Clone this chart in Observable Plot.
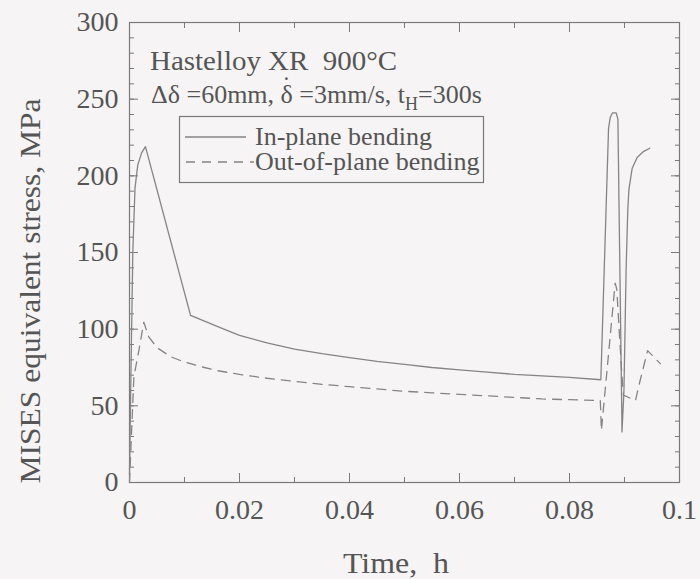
<!DOCTYPE html>
<html><head><meta charset="utf-8">
<script src="https://cdn.jsdelivr.net/npm/d3@7"></script>
<script src="https://cdn.jsdelivr.net/npm/@observablehq/plot@0.6"></script>
<style>
html,body{margin:0;padding:0;background:#f6f4f4;}
#chart svg{display:block;}
</style></head><body><div id="chart"></div>
<script>
// ---- data ----
const seriesNames = ["In-plane bending", "Out-of-plane bending"];
const inPlaneTime = [0, 0.0003, 0.0006, 0.001, 0.0015, 0.0022, 0.0029, 0.0111, 0.0165, 0.02, 0.025, 0.03, 0.035, 0.04, 0.045, 0.05, 0.055, 0.06, 0.065, 0.07, 0.075, 0.08, 0.0857, 0.0871, 0.0874, 0.0878, 0.0885, 0.0888, 0.08955, 0.0899, 0.0903, 0.0906, 0.0908, 0.0914, 0.0923, 0.0935, 0.0946];
const inPlaneStress = [5, 80, 150, 192, 207, 215, 219, 109, 101, 96, 91, 87, 84, 81.5, 79, 77, 75, 73.5, 72, 70.5, 69.5, 68.5, 67, 231, 238, 241, 241, 237, 33, 60, 140, 178, 191, 205, 212, 216, 218];
const outPlaneTime = [0, 0.0004, 0.0008, 0.0017, 0.0026, 0.0035, 0.005, 0.0075, 0.0093, 0.0125, 0.0159, 0.02, 0.025, 0.03, 0.035, 0.04, 0.045, 0.05, 0.055, 0.06, 0.065, 0.07, 0.075, 0.08, 0.0856, 0.0858, 0.0883, 0.0886, 0.0894, 0.0898, 0.0920, 0.0926, 0.0942, 0.0965];
const outPlaneStress = [0, 35, 69, 86, 104.5, 95, 88, 82, 79.5, 76, 73, 70.5, 68, 66, 64, 62.5, 61, 59.5, 58.5, 57.5, 56.5, 55.5, 54.5, 54, 53.5, 34, 130, 126, 77, 57, 53.5, 63, 86, 77.5];
const xTicks = [0, 0.02, 0.04, 0.06, 0.08, 0.1];
const xTickLabels = ["0", "0.02", "0.04", "0.06", "0.08", "0.1"];
const xMinorTicks = [0, 0.01, 0.02, 0.03, 0.04, 0.05, 0.06, 0.07, 0.08, 0.09, 0.1];
const yTicks = [0, 50, 100, 150, 200, 250, 300];
const yTickLabels = ["0", "50", "100", "150", "200", "250", "300"];
const yMinorTicks = d3.range(0, 301, 10);
const xTitle = "Time,  h";
const yTitle = "MISES equivalent stress, MPa";
const titleLine1 = "Hastelloy XR  900°C";

// ---- build ----
const inPlane = inPlaneTime.map((t, i) => ({time: t, stress: inPlaneStress[i]}));
const outPlane = outPlaneTime.map((t, i) => ({time: t, stress: outPlaneStress[i]}));
const ink = "#7a7a7a", lineInk = "#858585", textInk = "#555555";
const font = "'Liberation Serif','Times New Roman',serif";

const plot = Plot.plot({
  width: 700, height: 579,
  marginLeft: 129, marginRight: 21, marginTop: 22, marginBottom: 97,
  style: {background: "transparent", fontFamily: font, fontSize: "28px", color: textInk},
  x: {domain: [0, 0.1], label: null},
  y: {domain: [0, 300], label: null},
  marks: [
    Plot.axisX({ticks: xMinorTicks, anchor: "bottom", tickSize: -5, text: null, label: null, stroke: ink}),
    Plot.axisX({ticks: xMinorTicks, anchor: "top", tickSize: -5, text: null, label: null, stroke: ink}),
    Plot.axisX({ticks: xTicks, anchor: "bottom", tickSize: -9, text: null, label: null, stroke: ink}),
    Plot.axisX({ticks: xTicks, anchor: "top", tickSize: -9, text: null, label: null, stroke: ink}),
    Plot.axisY({ticks: yMinorTicks, anchor: "left", tickSize: -5, text: null, label: null, stroke: ink}),
    Plot.axisY({ticks: yMinorTicks, anchor: "right", tickSize: -5, text: null, label: null, stroke: ink}),
    Plot.axisY({ticks: yTicks, anchor: "left", tickSize: -9, text: null, label: null, stroke: ink}),
    Plot.axisY({ticks: yTicks, anchor: "right", tickSize: -9, text: null, label: null, stroke: ink}),
    Plot.axisX({ticks: xTicks, anchor: "bottom", tickSize: 0, tickPadding: 17, label: null, color: textInk, fontSize: 28,
      tickFormat: d => xTickLabels[xTicks.indexOf(d)]}),
    Plot.axisY({ticks: yTicks, anchor: "left", tickSize: 0, tickPadding: 11, label: null, color: textInk, fontSize: 28,
      tickFormat: d => yTickLabels[yTicks.indexOf(d)]}),
    Plot.frame({stroke: ink, strokeWidth: 1.2}),
    Plot.line(inPlane, {x: "time", y: "stress", stroke: lineInk, strokeWidth: 1.3}),
    Plot.line(outPlane, {x: "time", y: "stress", stroke: lineInk, strokeWidth: 1.3, strokeDasharray: "9,7"})
  ]
});
document.getElementById("chart").append(plot);

// ---- annotations ----
const svg = d3.select(plot);
const g = svg.append("g").attr("fill", textInk).attr("font-family", font).attr("text-anchor", "start");

// axis titles
g.append("text").attr("x", 396).attr("y", 573).attr("text-anchor", "middle")
  .attr("font-size", 29).attr("textLength", 106).attr("lengthAdjust", "spacingAndGlyphs")
  .style("white-space", "pre").text(xTitle);
g.append("text").attr("transform", "translate(40,291) rotate(-90)").attr("text-anchor", "middle")
  .attr("font-size", 29).attr("textLength", 385).attr("lengthAdjust", "spacingAndGlyphs").text(yTitle);

// in-plot title lines
g.append("text").attr("x", 150).attr("y", 70).attr("font-size", 28)
  .attr("textLength", 247).attr("lengthAdjust", "spacingAndGlyphs")
  .style("white-space", "pre").text(titleLine1);
const t2 = g.append("text").attr("x", 151).attr("y", 103).attr("font-size", 26).style("white-space", "pre");
t2.append("tspan").text("Δδ =60mm, δ");
t2.append("tspan").attr("dx", -10.8).attr("dy", -9).text("˙");
t2.append("tspan").attr("dx", 2.1).attr("dy", 9).text(" =3mm/s, t");
t2.append("tspan").attr("font-size", 18).attr("dy", 7).text("H");
t2.append("tspan").attr("dy", -7).text("=300s");

// legend
const lg = svg.append("g").attr("text-anchor", "start");
lg.append("rect").attr("x", 179.5).attr("y", 116.5).attr("width", 304).attr("height", 66)
  .attr("fill", "none").attr("stroke", ink).attr("stroke-width", 1.2);
lg.append("line").attr("x1", 185).attr("x2", 246).attr("y1", 137).attr("y2", 137)
  .attr("stroke", lineInk).attr("stroke-width", 1.3);
lg.append("line").attr("x1", 186).attr("x2", 254).attr("y1", 162).attr("y2", 162)
  .attr("stroke", lineInk).attr("stroke-width", 1.3).attr("stroke-dasharray", "9,7");
lg.append("text").attr("x", 255).attr("y", 145).attr("font-size", 26).attr("fill", textInk)
  .attr("font-family", font).text(seriesNames[0]);
lg.append("text").attr("x", 255).attr("y", 170).attr("font-size", 26).attr("fill", textInk)
  .attr("font-family", font).text(seriesNames[1]);
</script></body></html>
